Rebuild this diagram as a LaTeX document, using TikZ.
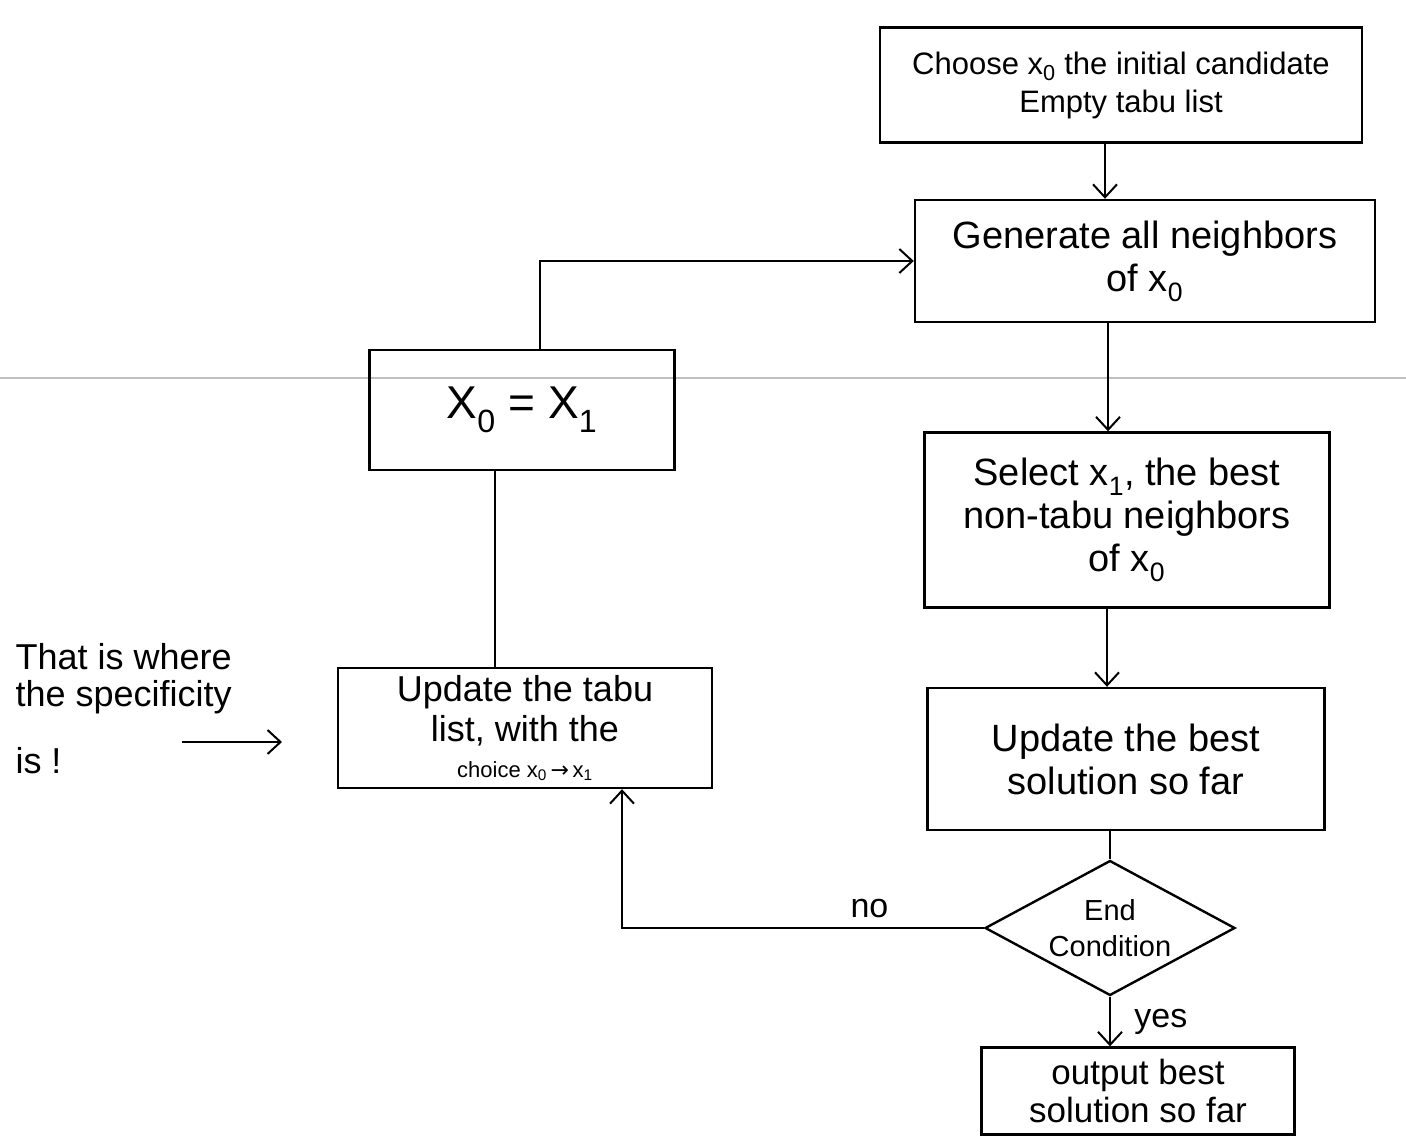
\documentclass[tikz,border=0pt]{standalone}
\usepackage{fontspec}
\setmainfont{Liberation Sans}
\newfontfamily\arrowfont{DejaVu Sans}
\usetikzlibrary{arrows.meta,shapes.geometric}
\newcommand{\xs}[1]{x\textsubscript{#1}}
\begin{document}
\begin{tikzpicture}[x=1pt,y=-1pt,
  box/.style={draw,line width=2.4pt,rectangle,align=center,inner sep=2pt},
  arr/.style={-{Straight Barb[length=13pt,width=24pt,line width=2pt]},line width=2.2pt},
  ln/.style={line width=2.2pt},
  big/.style={font=\fontsize{38}{43}\selectfont},
  mid/.style={font=\fontsize{31}{38}\selectfont}]
\useasboundingbox (0,0) rectangle (1406,1147);
\fill[white] (0,0) rectangle (1406,1147);
% screen artifact line
\draw[black!25,line width=1.5pt] (0,378) -- (1406,378);

\node[box,mid,minimum width=482pt,minimum height=115pt] (A) at (1121,85)
  {Choose \xs{0} the initial candidate\\Empty tabu list};
\node[box,big,minimum width=460pt,minimum height=122pt] (B) at (1145,261)
  {Generate all neighbors\\of \xs{0}};
\node[box,big,minimum width=405pt,minimum height=175pt] (C) at (1127,520)
  {Select \xs{1}, the best\\non-tabu neighbors\\of \xs{0}};
\node[box,big,minimum width=397pt,minimum height=142pt] (D) at (1126,759)
  {Update the best\\solution so far};
\node[draw,line width=2.4pt,diamond,aspect=1.85,align=center,inner sep=0pt,
  minimum width=250pt,minimum height=135pt,font=\fontsize{29}{36}\selectfont] (E) at (1110,928)
  {End\\Condition};
\node[box,font=\fontsize{35}{38}\selectfont,minimum width=313pt,minimum height=87pt] (F) at (1138,1091)
  {output best\\solution so far};
\node[box,font=\fontsize{36}{40}\selectfont,minimum width=374pt,minimum height=120pt] (G) at (525,728)
  {Update the tabu\\list, with the\\[-4pt]{\fontsize{22}{24}\selectfont choice \xs{0}\,{\arrowfont →}\,\xs{1}}};
\node[box,font=\fontsize{46}{50}\selectfont,minimum width=305pt,minimum height=120pt] (H) at (522,410)
  {X\textsubscript{0} = X\textsubscript{1}};
\node[font=\fontsize{36}{37}\selectfont,align=left,anchor=north west] (N) at (12,640)
  {That is where\\the specificity\\[30pt]is !};

\coordinate (xa) at (1105,0);
\coordinate (xb) at (1108,0);
\coordinate (xc) at (1107,0);
\coordinate (nox) at (622,0);
\coordinate (gh) at (495,0);
\coordinate (hb) at (540,0);
\coordinate (p1) at (182,742);
\coordinate (p2) at (282,742);

\draw[arr] (A.south -| xa) -- (B.north -| xa);
\draw[arr] (B.south -| xb) -- (C.north -| xb);
\draw[arr] (C.south -| xc) -- (D.north -| xc);
\draw[ln] (D.south -| E.north) -- (E.north);
\draw[arr] (E.south) -- (E.south |- F.north) node[midway,right=20pt,font=\fontsize{34}{36}\selectfont] {yes};
\draw[arr] (E.west) -| (G.south -| nox) node[pos=0.158,above=6pt,font=\fontsize{34}{36}\selectfont] {no};
\draw[ln] (G.north -| gh) -- (H.south -| gh);
\draw[arr] (H.north -| hb) |- (B.west);
\draw[arr] (p1) -- (p2);
\end{tikzpicture}
\end{document}
